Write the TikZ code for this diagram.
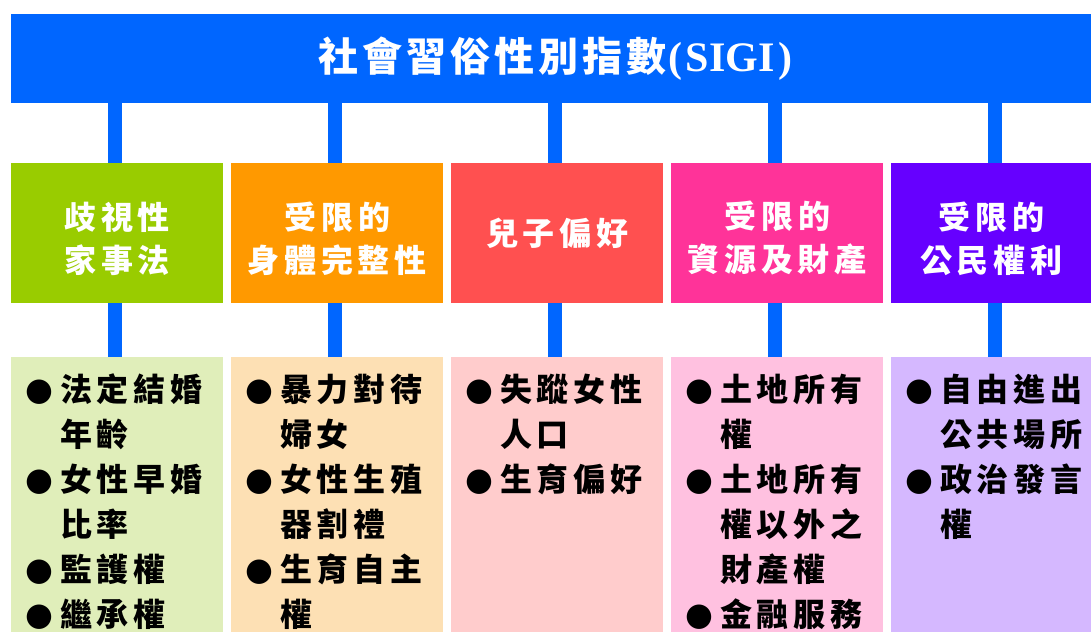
\documentclass[tikz,border=0pt]{standalone}
\usepackage{fontspec}
\newfontfamily\cjk{Noto Sans CJK TC}
\newfontfamily\cjksp{Noto Sans CJK TC}[LetterSpace=15]
\newfontfamily\serifT{Liberation Serif}
\newfontfamily\dejavu{DejaVu Sans}
\definecolor{barblue}{HTML}{0066FF}
\definecolor{cA}{HTML}{99CC00}\definecolor{cAl}{HTML}{E0EEBA}
\definecolor{cB}{HTML}{FF9900}\definecolor{cBl}{HTML}{FDE0B4}
\definecolor{cC}{HTML}{FF5050}\definecolor{cCl}{HTML}{FFCCCC}
\definecolor{cD}{HTML}{FF3399}\definecolor{cDl}{HTML}{FFC1E0}
\definecolor{cE}{HTML}{6600FF}\definecolor{cEl}{HTML}{D5B8FF}
\newcommand\midfont{\cjksp\bfseries\fontsize{32}{43}\selectfont}
\newcommand\listfont{\cjksp\bfseries\fontsize{32}{45}\selectfont}
\newcommand\bul{\makebox[49pt][l]{\hspace{14pt}\raisebox{1pt}{\dejavu\fontsize{32}{32}\selectfont ●}}}
\newcommand\ind{\hspace*{49pt}}
\newcommand\topgap{\rule{0pt}{6pt}\\[-11pt]}
\begin{document}
\begin{tikzpicture}[x=1pt,y=-1pt,
  conn/.style={draw=barblue,line width=14pt},
  topbar/.style={rectangle,fill=barblue,minimum width=1080pt,minimum height=89pt,inner sep=0pt,anchor=north west,text=white},
  midbox/.style={rectangle,minimum width=212pt,minimum height=140pt,inner sep=0pt,anchor=north west,text=white,align=center,font=\midfont},
  botbox/.style={rectangle,minimum width=212pt,minimum height=275pt,inner sep=0pt,anchor=north west},
  itemlist/.style={anchor=north west,inner sep=0pt,align=left,font=\listfont,text=black}]
\useasboundingbox (0,0) rectangle (1091,632);
\node[topbar] (top) at (11,14) {\hspace*{9pt}{\cjk\bfseries\fontsize{40}{40}\selectfont\addfontfeature{LetterSpace=10}社會習俗性別指數}\hspace{2pt}{\serifT\bfseries\fontsize{42}{42}\selectfont(\hspace{3pt}SIGI\hspace{4pt})}};
% middle boxes
\node[midbox,fill=cA] (m1) at (11,163) {\topgap 歧視性\\家事法};
\node[midbox,fill=cB] (m2) at (231,163) {\topgap 受限的\\身體完整性};
\node[midbox,fill=cC] (m3) at (451,163) {兒子偏好};
\node[midbox,fill=cD] (m4) at (671,163) {\topgap 受限的\\資源及財產};
\node[midbox,fill=cE,minimum width=200pt] (m5) at (891,163) {\topgap 受限的\\公民權利};
% bottom boxes
\node[botbox,fill=cAl] (b1) at (11,357) {};
\node[botbox,fill=cBl] (b2) at (231,357) {};
\node[botbox,fill=cCl] (b3) at (451,357) {};
\node[botbox,fill=cDl] (b4) at (671,357) {};
\node[botbox,fill=cEl,minimum width=200pt] (b5) at (891,357) {};
% connectors
\foreach \i/\x in {1/115,2/335,3/555,4/775,5/995}{
  \coordinate (k\i) at (\x,0);
  \draw[conn] (top.south -| k\i) -- (m\i.north -| k\i);
  \draw[conn] (m\i.south -| k\i) -- (b\i.north -| k\i);
}
% lists
\node[itemlist] (l1) at (11,374) {\bul 法定結婚\\\ind 年齡\\\bul 女性早婚\\\ind 比率\\\bul 監護權\\\bul 繼承權};
\node[itemlist] (l2) at (231,374) {\bul 暴力對待\\\ind 婦女\\\bul 女性生殖\\\ind 器割禮\\\bul 生育自主\\\ind 權};
\node[itemlist] (l3) at (451,374) {\bul 失蹤女性\\\ind 人口\\\bul 生育偏好};
\node[itemlist] (l4) at (671,374) {\bul 土地所有\\\ind 權\\\bul 土地所有\\\ind 權以外之\\\ind 財產權\\\bul 金融服務};
\node[itemlist] (l5) at (891,374) {\bul 自由進出\\\ind 公共場所\\\bul 政治發言\\\ind 權};
\end{tikzpicture}
\end{document}
